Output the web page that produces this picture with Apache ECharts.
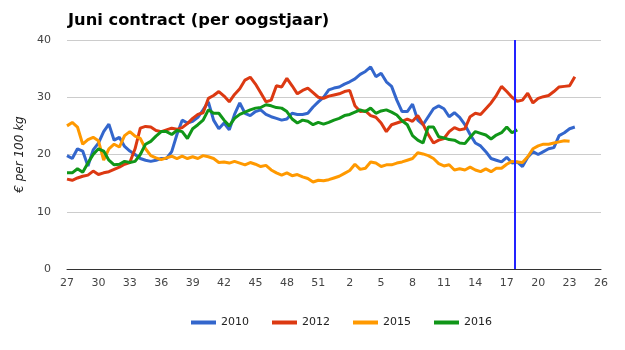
<!DOCTYPE html>
<html><head><meta charset="utf-8">
<script src="https://cdn.jsdelivr.net/npm/echarts@6/dist/echarts.min.js"></script>
<style>html,body{margin:0;padding:0;background:#fff}#c{width:625px;height:350px}</style>
</head><body><div id="c"></div>
<script>
// x positions: half-week steps from week 27 (index 0) to week 26 of next year (index 51)
const halfWeeks = Array.from({length: 103}, (_, i) => i / 2);
const seriesNames = ['2010', '2012', '2015', '2016'];
const seriesColors = ['#3366cc', '#dc3912', '#ff9900', '#109618'];
const markerWeekIndex = 42.73; // current week marker (≈ week 17.7)

const v2010 = [19.8,19.3,21.0,20.6,18.0,20.8,22.0,24.0,25.3,22.5,23.0,21.4,20.6,20.0,19.3,19.0,18.8,19.0,19.3,19.3,
20.5,23.5,26.0,25.5,25.8,26.5,27.8,29.2,26.0,24.5,25.5,24.3,27.0,29.0,27.2,26.8,27.5,27.8,27.0,26.6,
26.3,26.0,26.2,27.2,27.0,27.0,27.2,28.3,29.2,30.0,31.3,31.6,31.8,32.3,32.7,33.2,34.0,34.5,35.3,33.6,
34.2,32.7,31.9,29.5,27.5,27.5,28.8,26.0,25.2,26.6,28.0,28.5,28.0,26.6,27.3,26.5,25.2,23.5,22.0,21.5,
20.5,19.3,19.0,18.7,19.5,18.5,18.7,17.9,19.5,20.5,20.0,20.5,21.0,21.2,23.3,23.8,24.5,24.8];
const v2012 = [15.7,15.5,15.9,16.2,16.4,17.1,16.5,16.8,17.0,17.4,17.8,18.3,18.6,21.0,24.6,24.9,24.8,24.2,24.0,24.3,
24.6,24.4,24.7,25.4,26.3,27.0,27.3,29.8,30.3,31.0,30.2,29.2,30.5,31.5,33.0,33.5,32.3,30.8,29.2,29.5,
32.0,31.8,33.3,32.0,30.6,31.2,31.6,30.8,30.0,29.8,30.2,30.4,30.6,31.0,31.2,28.5,27.5,27.6,26.8,26.5,
25.5,24.0,25.2,25.5,25.8,26.2,25.8,26.8,25.3,23.5,22.0,22.5,22.8,24.0,24.7,24.3,24.5,26.6,27.2,27.0,
28.0,29.0,30.3,31.9,31.0,30.0,29.3,29.5,30.7,29.0,29.8,30.1,30.3,31.0,31.8,31.9,32.0,33.6];
const v2015 = [25.0,25.6,24.8,21.8,22.6,23.0,22.4,19.0,21.0,21.8,21.3,23.3,24.0,23.2,22.8,21.0,19.8,19.4,19.1,19.4,
19.7,19.3,19.7,19.3,19.6,19.3,19.8,19.6,19.3,18.6,18.7,18.5,18.8,18.5,18.2,18.6,18.3,17.9,18.1,17.3,
16.8,16.4,16.8,16.3,16.5,16.1,15.8,15.2,15.5,15.4,15.6,15.9,16.2,16.7,17.2,18.3,17.4,17.6,18.7,18.5,
17.9,18.2,18.2,18.5,18.7,19.0,19.3,20.3,20.1,19.8,19.3,18.4,18.0,18.2,17.3,17.5,17.3,17.8,17.3,17.0,
17.5,17.0,17.6,17.6,18.3,18.8,18.7,18.6,19.6,21.0,21.5,21.8,21.8,22.0,22.2,22.4,22.3];
const v2016 = [16.8,16.8,17.5,16.9,18.5,20.0,21.0,20.6,19.0,18.2,18.3,18.8,18.6,18.8,20.0,21.8,22.3,23.2,24.0,24.0,
23.5,24.2,24.0,22.8,24.5,25.2,26.0,27.8,27.2,27.2,26.0,25.0,26.3,27.0,27.4,27.8,28.1,28.2,28.7,28.5,
28.2,28.1,27.5,26.2,25.5,26.0,25.8,25.2,25.6,25.3,25.6,26.0,26.3,26.8,27.0,27.4,27.8,27.5,28.1,27.2,
27.6,27.8,27.4,26.9,25.9,25.2,23.3,22.5,22.0,24.8,24.8,23.1,22.9,22.6,22.5,22.0,21.9,23.0,24.0,23.7,
23.4,22.7,23.4,23.8,24.8,23.8,24.3];
const allValues = [v2010, v2012, v2015, v2016];

function weekLabel(v) { return String(((26 + Math.round(v)) % 52) + 1); }

const font = '"DejaVu Sans", Verdana, sans-serif';
const chart = echarts.init(document.getElementById('c'), null, {renderer: 'canvas'});
const series = seriesNames.map((name, k) => ({
  name: name,
  type: 'line',
  showSymbol: false,
  symbol: 'none',
  lineStyle: {width: 3, color: seriesColors[k]},
  itemStyle: {color: seriesColors[k]},
  data: allValues[k].map((y, i) => [halfWeeks[i], y]),
  z: 3 + k
}));
series[0].markLine = {
  silent: true,
  symbol: 'none',
  label: {show: false},
  lineStyle: {color: '#2323ff', width: 2, type: 'solid'},
  data: [{xAxis: markerWeekIndex}],
  z: 10
};

chart.setOption({
  animation: false,
  backgroundColor: '#fff',
  textStyle: {fontFamily: font},
  title: {
    text: 'Juni contract (per oogstjaar)',
    left: 63, top: 8,
    textStyle: {fontFamily: font, fontSize: 16.3, fontWeight: 'bold', color: '#000'}
  },
  legend: {
    left: 186, top: 312,
    itemWidth: 25, itemHeight: 4, itemGap: 23,
    icon: 'rect',
    textStyle: {fontFamily: font, fontSize: 11, color: '#222'},
    data: seriesNames
  },
  grid: {left: 67, right: 24, top: 40, bottom: 81, containLabel: false},
  xAxis: {
    type: 'value', min: 0, max: 51, interval: 3,
    axisLine: {show: true, lineStyle: {color: '#333', width: 1}},
    axisTick: {show: false},
    splitLine: {show: false},
    axisLabel: {formatter: weekLabel, color: '#444', fontSize: 11, margin: 9, fontFamily: font}
  },
  yAxis: {
    type: 'value', min: 0, max: 40, interval: 10,
    name: '€ per 100 kg', nameLocation: 'middle', nameGap: 32,
    nameTextStyle: {fontStyle: 'italic', fontSize: 12, color: '#222', fontFamily: font},
    axisLine: {show: false}, axisTick: {show: false},
    splitLine: {lineStyle: {color: '#cccccc', width: 1}},
    axisLabel: {color: '#444', fontSize: 11, margin: 16, fontFamily: font}
  },
  series: series
});
</script></body></html>
